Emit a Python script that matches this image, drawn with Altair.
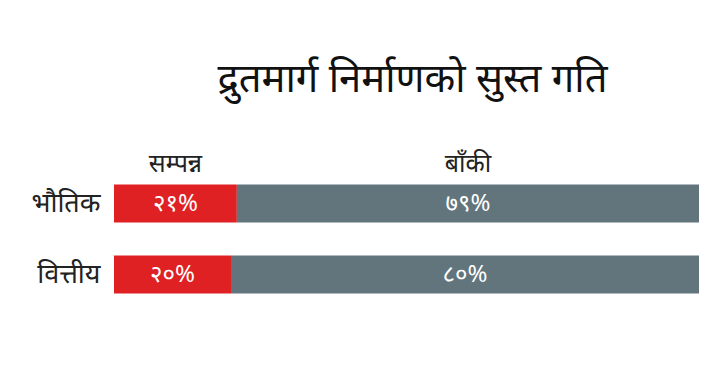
import altair as alt
import pandas as pd

title = "द्रुतमार्ग निर्माणको सुस्त गति"
categories = ["भौतिक", "वित्तीय"]
segments = ["सम्पन्न", "बाँकी"]
done = [21, 20]
remaining = [79, 80]
colors = ["#E02124", "#62757D"]

DEV = str.maketrans("0123456789", "०१२३४५६७८९")
FONT = "Noto Sans"

rows = []
for c, d, r in zip(categories, done, remaining):
    rows.append(dict(cat=c, seg=segments[0], start=0, end=d, label=f"{d}%".translate(DEV), o=0))
    rows.append(dict(cat=c, seg=segments[1], start=d, end=d + r, label=f"{r}%".translate(DEV), o=1))
df = pd.DataFrame(rows)
df["mid"] = (df["start"] + df["end"]) / 2

x = alt.X("start:Q", scale=alt.Scale(domain=[0, 100], nice=False), axis=None)
y = alt.Y("cat:N", sort=categories,
          scale=alt.Scale(paddingInner=0.465, paddingOuter=0.2325),
          axis=alt.Axis(title=None, domain=False, ticks=False, labelFontSize=27,
                        labelFont=FONT, labelColor="#222222", labelPadding=14))

base = alt.Chart(df)
bars = base.mark_bar().encode(
    x=x, x2="end:Q", y=y,
    color=alt.Color("seg:N", sort=segments, scale=alt.Scale(domain=segments, range=colors), legend=None),
)
labels = base.mark_text(color="white", fontSize=24, font=FONT).encode(
    x=alt.X("mid:Q"), y=alt.Y("cat:N", sort=categories), text="label:N"
)
header = base.transform_filter(alt.datum.cat == categories[0]).mark_text(
    fontSize=25, font=FONT, color="#222222", baseline="alphabetic"
).encode(x=alt.X("mid:Q"), y=alt.value(4), text="seg:N")

chart = alt.layer(bars, labels, header).properties(
    width=585, height=142,
    title=alt.TitleParams(title, fontSize=40, font=FONT, fontWeight="normal", color="#111111",
                          anchor="middle", frame="group", offset=52, dx=6),
    padding={"left": 106, "top": 160, "right": 21, "bottom": 71},
    autosize="none",
).configure_view(stroke=None)

chart.save("out.html", embed_options={"renderer": "svg", "actions": False})
